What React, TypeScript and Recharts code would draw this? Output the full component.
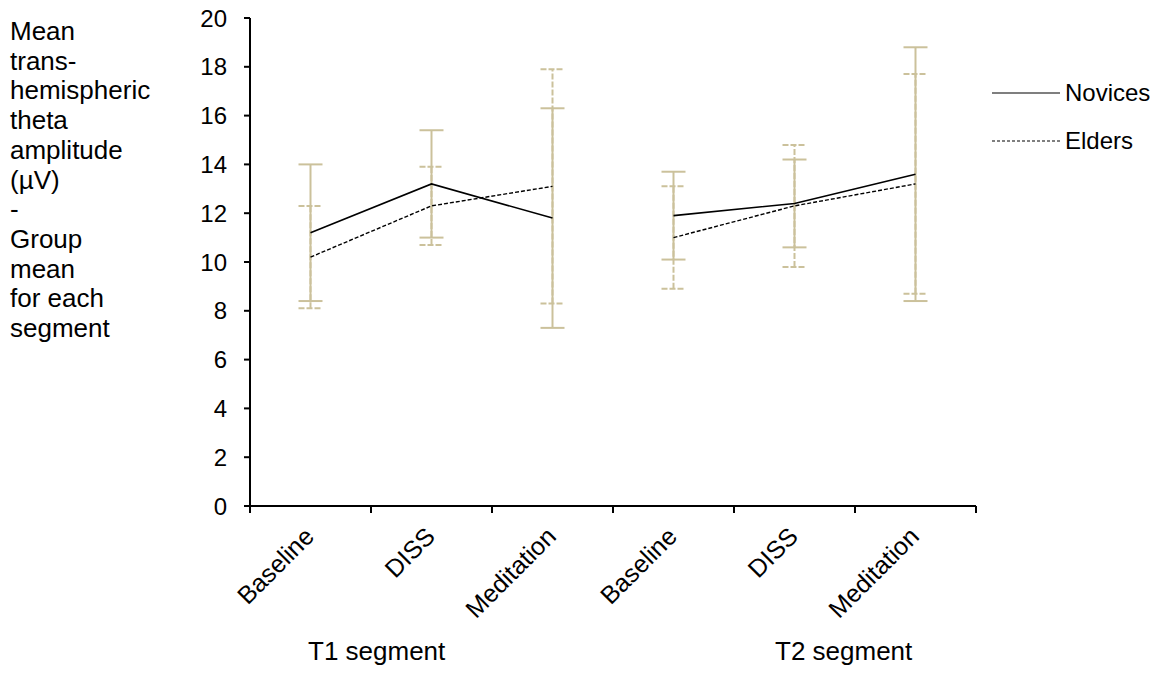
import { LineChart, Line, XAxis, YAxis, ErrorBar } from 'recharts';

const categories = ['Baseline', 'DISS', 'Meditation', 'Baseline', 'DISS', 'Meditation'];
const segments = ['T1 segment', 'T2 segment'];
const yLabelLines = ['Mean', 'trans-', 'hemispheric', 'theta', 'amplitude', '(µV)', '-', 'Group', 'mean', 'for each', 'segment'];

const novices = [11.2, 13.2, 11.8, 11.9, 12.4, 13.6];
const novicesErr = [2.8, 2.2, 4.5, 1.8, 1.8, 5.2];
const elders = [10.2, 12.3, 13.1, 11.0, 12.3, 13.2];
const eldersErr = [2.1, 1.6, 4.8, 2.1, 2.5, 4.5];

const yTicks = [0, 2, 4, 6, 8, 10, 12, 14, 16, 18, 20];

const FONT = '"Liberation Sans", Arial, sans-serif';
const ERR_COLOR = '#cbc19b';

const data = categories.map((name, i) => ({
  x: i + 0.5,
  name,
  novices: novices[i],
  novicesErr: novicesErr[i],
  elders: elders[i],
  eldersErr: eldersErr[i],
}));

// the two segments are drawn as separate lines: a null row breaks them
const lineData = [
  ...data.slice(0, 3),
  { x: 3, name: '', novices: null, elders: null },
  ...data.slice(3),
];

// boundaries get a tick mark, band centres get the label
const xTicks: number[] = [];
for (let i = 0; i <= categories.length; i++) {
  xTicks.push(i);
  if (i < categories.length) xTicks.push(i + 0.5);
}

function CategoryTick(props: any) {
  const { x, y, payload } = props;
  const v = payload.value;
  if (Number.isInteger(v)) {
    return <line x1={x} x2={x} y1={y} y2={y + 7} stroke="#000" strokeWidth={2} />;
  }
  return (
    <text
      transform={`translate(${x + 5},${y + 32}) rotate(-45)`}
      textAnchor="end"
      fontSize={25}
      fontFamily={FONT}
      fill="#000"
    >
      {categories[Math.floor(v)]}
    </text>
  );
}

const legendItems = [
  { label: 'Novices', dash: undefined as string | undefined, top: 79 },
  { label: 'Elders', dash: '3 2', top: 127 },
];

export default function App() {
  return (
    <div style={{ position: 'absolute', left: 0, top: 0, width: 1160, height: 678, background: '#fff', fontFamily: FONT }}>
      <LineChart width={1160} height={678} data={data} margin={{ top: 18, right: 184, bottom: 0, left: 0 }}>
        <XAxis
          type="number"
          dataKey="x"
          domain={[0, 6]}
          ticks={xTicks}
          interval={0}
          height={172}
          tickLine={false}
          tickSize={0}
          tickMargin={0}
          axisLine={{ stroke: '#000', strokeWidth: 2 }}
          tick={<CategoryTick />}
        />
        <YAxis
          domain={[0, 20]}
          ticks={yTicks}
          interval={0}
          width={250}
          tickSize={6}
          tickMargin={17}
          axisLine={{ stroke: '#000', strokeWidth: 2 }}
          tickLine={{ stroke: '#000', strokeWidth: 2 }}
          tick={{ fill: '#000', fontSize: 24, fontFamily: FONT }}
        />
        {/* error bars first so the means sit on top */}
        <Line dataKey="elders" stroke="none" dot={false} activeDot={false} legendType="none" isAnimationActive={false}>
          <ErrorBar dataKey="eldersErr" direction="y" width={12} stroke={ERR_COLOR} strokeWidth={2} strokeDasharray="6 2" isAnimationActive={false} />
        </Line>
        <Line dataKey="novices" stroke="none" dot={false} activeDot={false} legendType="none" isAnimationActive={false}>
          <ErrorBar dataKey="novicesErr" direction="y" width={12} stroke={ERR_COLOR} strokeWidth={2} isAnimationActive={false} />
        </Line>
        <Line data={lineData} type="linear" dataKey="novices" stroke="#000" strokeWidth={1.6} dot={false} activeDot={false} isAnimationActive={false} />
        <Line data={lineData} type="linear" dataKey="elders" stroke="#000" strokeWidth={1.4} strokeDasharray="4 2" dot={false} activeDot={false} isAnimationActive={false} />
      </LineChart>

      <div style={{ position: 'absolute', left: 10, top: 17, fontSize: 26, lineHeight: '29.7px', color: '#000' }}>
        {yLabelLines.map((l, i) => (
          <div key={i}>{l}</div>
        ))}
      </div>

      {segments.map((s, i) => (
        <div
          key={s}
          style={{ position: 'absolute', top: 636, left: i === 0 ? 308 : 775, fontSize: 26, color: '#000', whiteSpace: 'nowrap' }}
        >
          {s}
        </div>
      ))}

      {legendItems.map((it) => (
        <div key={it.label} style={{ position: 'absolute', left: 992, top: it.top, display: 'flex', alignItems: 'center', fontSize: 24, color: '#000' }}>
          <svg width={70} height={24}>
            <line x1={0} x2={68} y1={12} y2={12} stroke="#000" strokeWidth={1.2} strokeDasharray={it.dash} />
          </svg>
          <span style={{ marginLeft: 3 }}>{it.label}</span>
        </div>
      ))}
    </div>
  );
}
